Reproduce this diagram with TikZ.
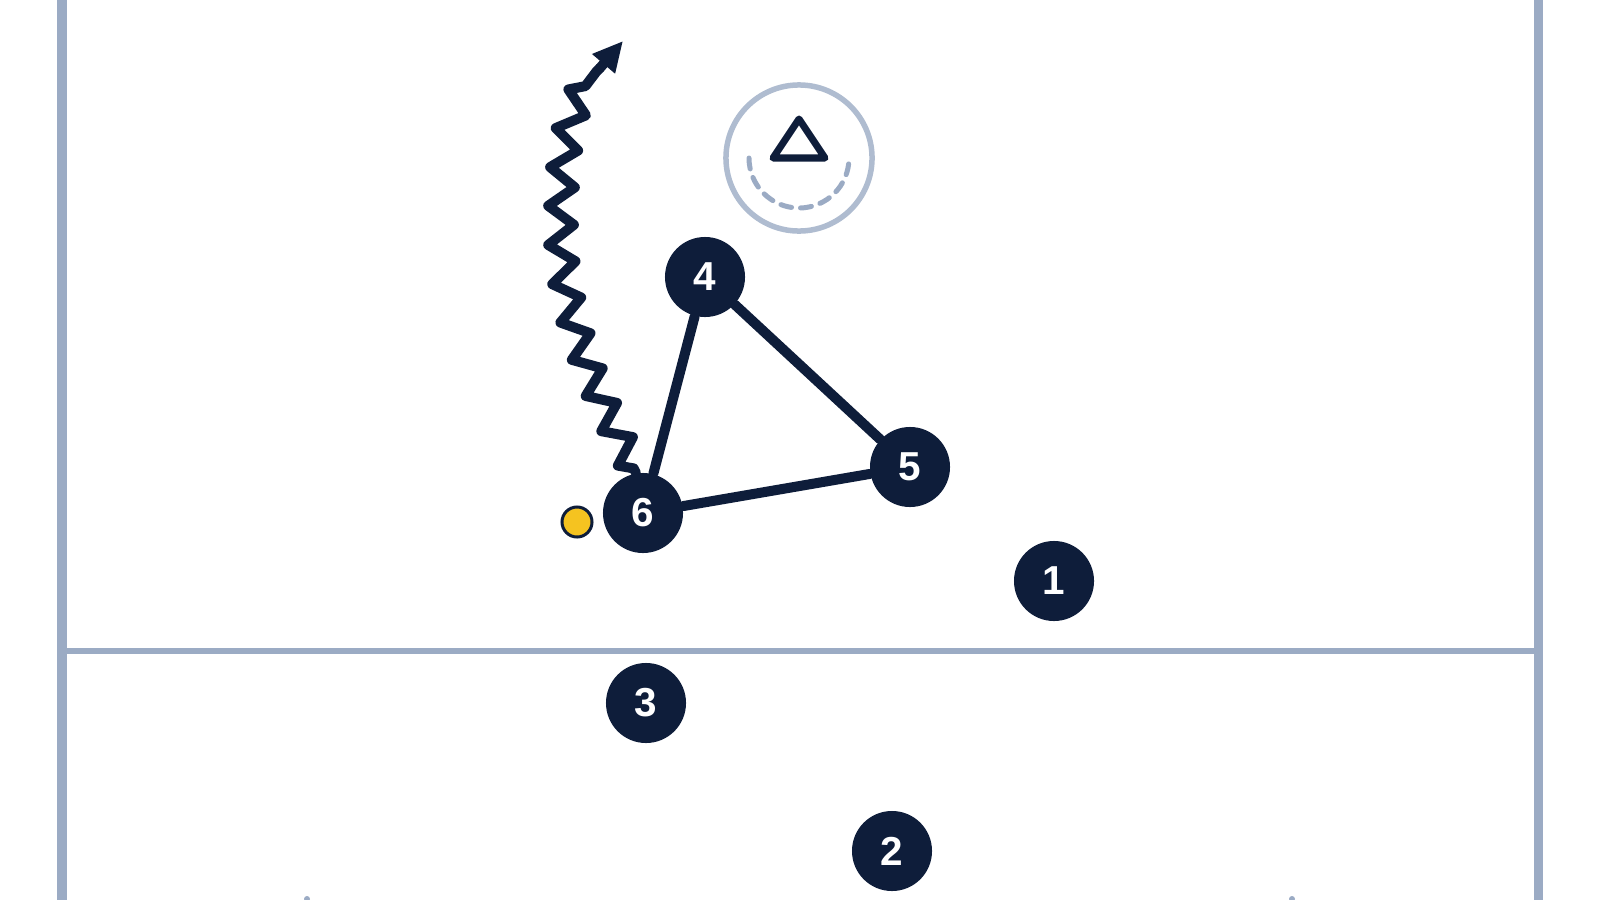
\documentclass[tikz,border=0pt]{standalone}
\usepackage{fontspec}
\setmainfont{Liberation Sans}
\usepackage{tikz}
\usetikzlibrary{decorations.pathmorphing,arrows.meta}
\definecolor{navy}{HTML}{0E1D3A}
\definecolor{fieldline}{HTML}{9BABC4}
\definecolor{ballyellow}{HTML}{F5C320}

\begin{document}
\begin{tikzpicture}[x=0.01cm,y=-0.01cm,
    player/.style={circle,fill=navy,text=white,minimum size=0.8cm,inner sep=0pt,
      font=\fontsize{11.5}{11.5}\selectfont\bfseries},
    pass/.style={navy,line width=0.1cm,line cap=round},
    dribble/.style={navy,line width=0.1cm,line join=round,line cap=round,
      decorate,decoration={zigzag,amplitude=0.13cm,segment length=0.38cm,
      pre length=0.05cm,post length=0.05cm}}]
    \useasboundingbox (0,0) rectangle (1600,900);
    % field
    \draw [fieldline,line width=0.09cm] (62,0) -- (62,900);
    \draw [fieldline,line width=0.09cm] (1538,0) -- (1538,900);
    \draw [fieldline,line width=0.06cm] (62,651) -- (1538,651);
    \fill [fieldline] (307,899) circle (3);
    \fill [fieldline] (1292,899) circle (3);
    % goal
    \node[circle,draw=fieldline!80,line width=0.055cm,minimum size=1.46cm] (goal) at (799,158) {};
    \draw [fieldline,line width=0.05cm,line cap=round,dash pattern=on 0.11cm off 0.09cm] (749,158) arc (180:0:50);
    \draw [navy,line width=0.07cm,line join=round] (799,119) -- (825,158) -- (773,158) -- cycle;
    % players
    \node[player] (p4) at (705,277) {4};
    \node[player] (p5) at (910,467) {5};
    \node[player] (p6) at (643,513) {6};
    \node[player] (p1) at (1054,581) {1};
    \node[player] (p3) at (646,703) {3};
    \node[player] (p2) at (892,851) {2};
    \node[circle,fill=ballyellow,draw=navy,line width=0.03cm,minimum size=0.3cm,inner sep=0pt] (ball) at (577,522) {};
    \coordinate (turn) at (561,230);
    \coordinate (bend) at (600,68);
    \coordinate (run) at (623,41);
    \draw [pass] (p6) to node {} (p4);
    \draw [pass] (p4) to node {} (p5);
    \draw [pass] (p5) to node {} (p6);
    \draw [dribble] (p6.100) .. controls (600,400) and (561,320) .. (turn)
      .. controls (561,160) and (566,100) .. (bend);
    \draw [navy,line width=0.1cm,line cap=round,-{Triangle[length=0.3cm,width=0.28cm]}] (bend) -- (run);
  \end{tikzpicture}
\end{document}
